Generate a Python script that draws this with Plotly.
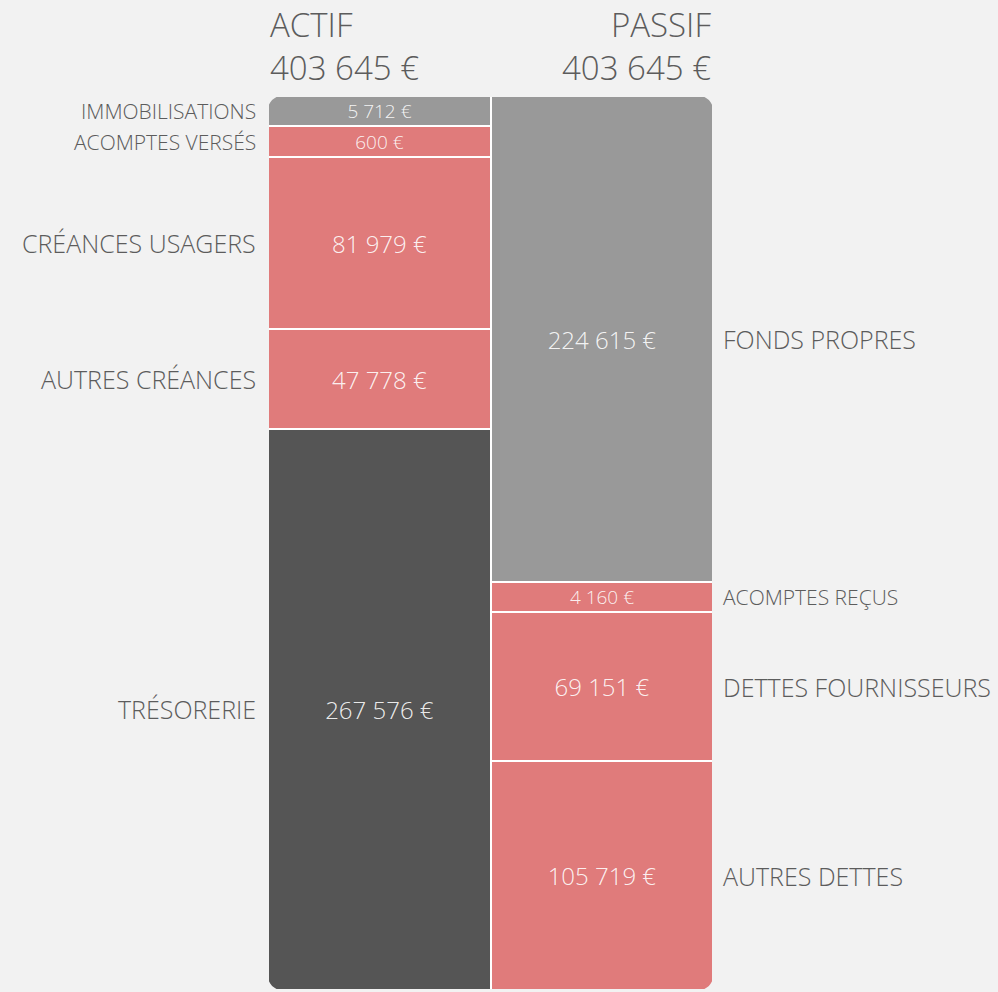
import plotly.graph_objects as go

# ---- data ----
actif_labels = ["IMMOBILISATIONS", "ACOMPTES VERSÉS", "CRÉANCES USAGERS", "AUTRES CRÉANCES", "TRÉSORERIE"]
actif_values = [5712, 600, 81979, 47778, 267576]
actif_colors = ["#999999", "#e07b7b", "#e07b7b", "#e07b7b", "#555555"]

passif_labels = ["FONDS PROPRES", "ACOMPTES REÇUS", "DETTES FOURNISSEURS", "AUTRES DETTES"]
passif_values = [224615, 4160, 69151, 105719]
passif_colors = ["#999999", "#e07b7b", "#e07b7b", "#e07b7b"]

column_titles = ["ACTIF", "PASSIF"]

BG = "#f2f2f2"
TXT = "#5c5c5c"
FONT = "Open Sans"
WEIGHT = 300
MIN_FRAC = 0.034  # minimum visual height of a segment (fraction of column)


def fmt(v):
    return f"{v:,}".replace(",", " ") + " €"


def display_fracs(values):
    total = sum(values)
    small = [v / total < MIN_FRAC for v in values]
    rest = 1 - MIN_FRAC * sum(small)
    big_total = sum(v for v, s in zip(values, small) if not s)
    return [MIN_FRAC if s else v / big_total * rest for v, s in zip(values, small)]


fig = go.Figure()
annotations = []

for xpos, labels, values, colors, side in [
    (0, actif_labels, actif_values, actif_colors, "left"),
    (1, passif_labels, passif_values, passif_colors, "right"),
]:
    fracs = display_fracs(values)
    base = 0.0
    for lab, v, f, c in zip(labels, values, fracs, colors):
        small = f <= MIN_FRAC + 1e-9
        fig.add_trace(go.Bar(
            x=[xpos], y=[f], width=[1.0],
            marker=dict(color=c, line=dict(color="white", width=2)),
            text=[fmt(v)], textposition="inside", insidetextanchor="middle",
            textangle=0, constraintext="none",
            textfont=dict(family=FONT, size=19 if small else 24, weight=WEIGHT,
                          color="rgba(255,255,255,0.9)"),
            hoverinfo="skip", showlegend=False,
        ))
        mid = base + f / 2
        base += f
        fnt = dict(family=FONT, size=21 if small else 25, color=TXT, weight=WEIGHT)
        if side == "left":
            annotations.append(dict(x=-0.5, y=mid, xref="x", yref="y", text=lab,
                                    xanchor="right", yanchor="middle", xshift=-10,
                                    showarrow=False, font=fnt))
        else:
            annotations.append(dict(x=1.5, y=mid, xref="x", yref="y", text=lab,
                                    xanchor="left", yanchor="middle", xshift=8,
                                    showarrow=False, font=fnt))

# column headers (title + total, two lines)
hfont = dict(family=FONT, size=33, color=TXT, weight=WEIGHT)
for xa, anc, title, vals in [(-0.5, "left", column_titles[0], actif_values),
                             (1.5, "right", column_titles[1], passif_values)]:
    annotations.append(dict(x=xa, y=1, xref="x", yref="paper", yanchor="bottom",
                            xanchor=anc, align=anc, yshift=4, showarrow=False,
                            text=f"{title}<br>{fmt(sum(vals))}", font=hfont))

# rounded outer corners: masks in pixel units anchored at the column corners
r = 14
k = 0.5523
shapes = [dict(type="rect", xref="x", yref="y", x0=-0.5, x1=1.5, y0=0, y1=1,
               line=dict(color=BG, width=2), fillcolor="rgba(0,0,0,0)", layer="above")]
for ax, ay, sx, sy in [(-0.5, 0, 1, -1), (1.5, 0, -1, -1), (-0.5, 1, 1, 1), (1.5, 1, -1, 1)]:
    e = 2
    p = (f"M {-sx*e},{-sy*e} L {sx*r},{-sy*e} L {sx*r},0 "
         f"C {sx*(r-k*r)},0 0,{sy*(r-k*r)} 0,{sy*r} "
         f"L {-sx*e},{sy*r} Z")
    shapes.append(dict(type="path", xref="x", yref="y", xsizemode="pixel", ysizemode="pixel",
                       xanchor=ax, yanchor=ay, path=p, fillcolor=BG,
                       line=dict(width=0), layer="above"))

fig.update_layout(
    barmode="stack",
    width=998, height=992,
    margin=dict(l=268, r=285, t=96, b=2),
    paper_bgcolor=BG, plot_bgcolor=BG,
    xaxis=dict(range=[-0.5, 1.5], visible=False, fixedrange=True),
    yaxis=dict(range=[1, 0], visible=False, fixedrange=True),
    annotations=annotations,
    shapes=shapes,
    bargap=0,
)

fig.write_html("out.html", config={"displayModeBar": False},
               post_script="document.body.style.margin='0';document.body.style.background='#f2f2f2';")
